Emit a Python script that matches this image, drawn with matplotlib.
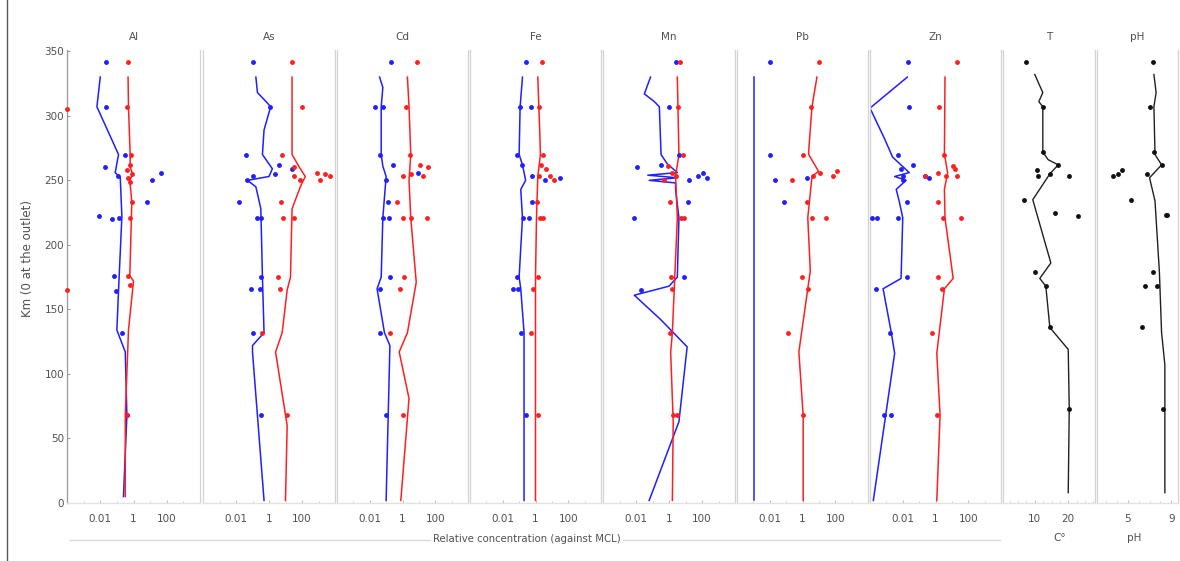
import numpy as np
import matplotlib
matplotlib.use("Agg")
import matplotlib.pyplot as plt
from matplotlib.lines import Line2D
from matplotlib.ticker import FixedLocator, NullFormatter, FixedFormatter

plt.rcParams['font.family'] = ['DejaVu Sans']

W, H = 1180, 561
PANELS = ["Al", "As", "Cd", "Fe", "Mn", "Pb", "Zn", "T", "pH"]

# ---------------- data (km from outlet, relative concentration vs MCL) ----------------
AL_BLUE_KM = [342, 307, 270, 260, 253, 250, 256, 233, 222, 220, 221, 176, 164, 132, 68]
AL_BLUE = [0.022, 0.022, 0.32, 0.02, 0.117, 12.6, 45, 6.3, 7.9e-3, 0.05, 0.126, 0.063, 0.089, 0.2, 0.4]
AL_RED_KM = [342, 307, 270, 258, 262, 255, 252, 249, 233, 221, 176, 169, 68, 305, 165]
AL_RED = [0.5, 0.4, 0.71, 0.4, 0.63, 0.8, 0.5, 0.63, 0.79, 0.63, 0.5, 0.63, 0.4, 1e-4, 1e-4]
AL_BLINE_KM = [5, 68, 117, 134, 165, 222, 252, 256, 270, 307, 330]
AL_BLINE = [0.25, 0.4, 0.32, 0.1, 0.126, 0.2, 0.16, 0.079, 0.126, 6.3e-3, 0.01]
AL_RLINE_KM = [5, 68, 134, 172, 176, 233, 250, 255, 260, 270, 307, 330]
AL_RLINE = [0.32, 0.32, 0.5, 1.0, 0.6, 0.79, 0.6, 0.9, 0.63, 0.63, 0.5, 0.47]

AS_BLUE_KM = [342, 307, 270, 262, 255, 253, 250, 259, 233, 221, 221, 175, 166, 166, 132, 68]
AS_BLUE = [0.1, 1.2, 0.04, 4.0, 2.24, 0.1, 0.044, 25, 0.016, 0.2, 0.32, 0.32, 0.079, 0.28, 0.1, 0.35]
AS_RED_KM = [342, 307, 270, 260, 256, 255, 250, 253, 253, 250, 233, 221, 221, 175, 166, 132, 68]
AS_RED = [25, 100, 6.3, 32, 800, 2500, 1260, 5000, 32, 79, 5.5, 6.9, 32, 3.5, 4.8, 0.4, 12]
AS_BLINE_KM = [2, 117, 122, 132, 175, 228, 245, 250, 253, 259, 270, 289, 307, 310, 318, 330]
AS_BLINE = [0.5, 0.1, 0.1, 0.5, 0.4, 0.32, 0.16, 0.05, 1.0, 1.6, 0.4, 0.5, 1.26, 0.79, 0.2, 0.16]
AS_RLINE_KM = [2, 60, 117, 132, 165, 175, 228, 245, 253, 261, 270, 330]
AS_RLINE = [10, 12.6, 2.5, 6.3, 12.6, 20, 25, 79, 158, 63, 25, 25]

CD_BLUE_KM = [342, 307, 307, 270, 262, 250, 256, 233, 221, 221, 175, 166, 132, 68]
CD_BLUE = [0.2, 0.02, 0.069, 0.044, 0.28, 0.1, 8.7, 0.126, 0.063, 0.16, 0.17, 0.044, 0.04, 0.1]
CD_RED_KM = [342, 307, 270, 262, 260, 255, 253, 253, 233, 221, 221, 221, 175, 166, 132, 68]
CD_RED = [7.9, 1.6, 2.75, 11, 35, 3.2, 17.4, 1.0, 0.44, 1.0, 3.2, 32, 1.2, 0.69, 0.17, 1.1]
CD_BLINE_KM = [2, 122, 132, 166, 175, 221, 253, 261, 270, 307, 322, 330]
CD_BLINE = [0.1, 0.17, 0.079, 0.028, 0.05, 0.063, 0.1, 0.063, 0.05, 0.05, 0.063, 0.04]
CD_RLINE_KM = [2, 81, 117, 132, 171, 221, 250, 270, 307, 330]
CD_RLINE = [0.79, 2.5, 0.63, 2.0, 6.9, 3.2, 2.5, 3.2, 2.5, 2.0]

FE_BLUE_KM = [342, 307, 307, 270, 262, 253, 250, 252, 233, 221, 221, 175, 166, 166, 132, 68]
FE_BLUE = [0.25, 0.115, 0.5, 0.079, 0.16, 0.58, 4.0, 32, 0.58, 0.18, 0.4, 0.072, 0.04, 0.091, 0.138, 0.25]
FE_RED_KM = [342, 307, 270, 262, 259, 253, 253, 250, 233, 221, 221, 175, 166, 132, 68]
FE_RED = [2.5, 1.74, 2.9, 2.2, 4.6, 1.6, 7.9, 12.6, 1.26, 1.8, 2.9, 1.38, 0.72, 0.5, 1.45]
FE_BLINE_KM = [2, 132, 166, 175, 221, 243, 250, 262, 270, 307, 330]
FE_BLINE = [0.2, 0.2, 0.126, 0.1, 0.16, 0.126, 0.25, 0.16, 0.1, 0.115, 0.16]
FE_RLINE_KM = [2, 132, 175, 221, 253, 270, 289, 330]
FE_RLINE = [1.0, 1.0, 1.0, 1.15, 1.38, 2.0, 1.8, 1.38]

MN_BLUE_KM = [342, 307, 270, 262, 260, 250, 253, 256, 252, 233, 221, 175, 165]
MN_BLUE = [2.5, 1.0, 4.0, 0.33, 0.012, 16.6, 60, 115, 190, 14.5, 7.6e-3, 7.6, 0.019]
MN_RED_KM = [342, 307, 270, 261, 256, 253, 250, 233, 221, 221, 175, 166, 132, 68, 68]
MN_RED = [4.8, 3.3, 6.6, 0.83, 1.6, 2.5, 0.52, 1.2, 5.2, 7.6, 1.32, 1.45, 1.2, 1.66, 3.0]
MN_BLINE_KM = [2, 63, 121, 142, 161, 168, 175, 221, 243, 248, 250, 252, 254, 256, 263, 270, 307, 311, 317, 330]
MN_BLINE = [0.063, 4.0, 12.6, 0.32, 7.9e-3, 1.0, 3.2, 4.0, 2.5, 2.5, 0.063, 3.2, 0.052, 3.2, 0.76, 0.33, 0.26, 0.13, 0.032, 0.076]
MN_RLINE_KM = [2, 63, 117, 132, 221, 253, 270, 330]
MN_RLINE = [1.6, 1.8, 1.26, 1.6, 3.2, 2.5, 4.0, 3.2]

PB_BLUE_KM = [342, 270, 250, 252, 233]
PB_BLUE = [0.011, 0.01, 0.022, 1.9, 0.076]
PB_RED_KM = [342, 307, 270, 257, 253, 256, 253, 250, 233, 221, 221, 175, 166, 132, 68]
PB_RED = [9.5, 3.5, 1.0, 126, 69, 12, 4.4, 0.22, 1.9, 3.8, 27.5, 0.87, 2.1, 0.138, 1.1]
PB_BLINE_KM = [2, 330]
PB_BLINE = [1.1e-3, 1.1e-3]
PB_RLINE_KM = [2, 68, 117, 166, 180, 221, 253, 257, 270, 273, 307, 330]
PB_RLINE = [1.1, 1.1, 0.6, 2.1, 3.0, 2.1, 3.8, 9.5, 2.4, 2.4, 3.8, 7.6]

ZN_BLUE_KM = [342, 307, 270, 262, 259, 253, 250, 253, 252, 233, 221, 221, 221, 175, 166, 132, 68, 68]
ZN_BLUE = [0.022, 0.024, 4.8e-3, 0.044, 7.6e-3, 0.01, 0.01, 0.24, 0.38, 0.019, 1.3e-4, 2.6e-4, 5.5e-3, 0.019, 2.2e-4, 1.7e-3, 7.6e-4, 1.9e-3]
ZN_RED_KM = [342, 307, 270, 261, 259, 256, 253, 253, 253, 233, 221, 221, 175, 166, 132, 68]
ZN_RED = [22, 1.74, 3.5, 12, 15, 1.5, 4.2, 21, 0.24, 1.38, 3.0, 35, 1.5, 2.4, 0.6, 1.2]
ZN_BLINE_KM = [2, 116, 132, 166, 174, 221, 233, 243, 250, 253, 256, 268, 282, 306, 330]
ZN_BLINE = [1.6e-4, 3.2e-3, 2e-3, 6.3e-4, 7.9e-3, 0.01, 6.3e-3, 4e-3, 0.016, 3.2e-3, 0.025, 2.4e-3, 7.9e-4, 1e-4, 0.019]
ZN_RLINE_KM = [2, 68, 116, 166, 174, 221, 243, 256, 270, 330]
ZN_RLINE = [1.2, 1.9, 1.2, 3.5, 12, 3.8, 3.5, 5.5, 3.5, 3.8]

T_KM = [342, 307, 272, 262, 258, 255, 253, 253, 235, 225, 222, 179, 168, 136, 73]
T_VAL = [7.3, 12.4, 12.4, 17, 10.6, 14.5, 11, 20.3, 6.7, 16, 23, 10, 13.3, 14.5, 20.3]
T_LINE_KM = [8, 73, 119, 136, 168, 174, 186, 235, 255, 262, 266, 272, 307, 311, 318, 332]
T_LINE = [20, 20.3, 20, 14.5, 13.3, 11.5, 14.8, 9.4, 14.5, 17, 14, 12.4, 12.4, 11.2, 12.4, 10]

PH_KM = [342, 307, 272, 262, 258, 253, 255, 255, 235, 223, 223, 179, 168, 168, 136, 73]
PH_VAL = [7.3, 7.0, 7.4, 8.1, 4.5, 3.7, 4.1, 6.8, 5.3, 8.5, 8.6, 7.3, 6.6, 7.7, 6.3, 8.2]
PH_LINE_KM = [8, 107, 132, 179, 234, 252, 262, 270, 307, 318, 332]
PH_LINE = [8.4, 8.4, 8.1, 7.9, 7.5, 7.0, 8.1, 7.5, 7.4, 7.6, 7.4]

METALS = [
    ("Al", AL_BLUE_KM, AL_BLUE, AL_RED_KM, AL_RED, AL_BLINE_KM, AL_BLINE, AL_RLINE_KM, AL_RLINE),
    ("As", AS_BLUE_KM, AS_BLUE, AS_RED_KM, AS_RED, AS_BLINE_KM, AS_BLINE, AS_RLINE_KM, AS_RLINE),
    ("Cd", CD_BLUE_KM, CD_BLUE, CD_RED_KM, CD_RED, CD_BLINE_KM, CD_BLINE, CD_RLINE_KM, CD_RLINE),
    ("Fe", FE_BLUE_KM, FE_BLUE, FE_RED_KM, FE_RED, FE_BLINE_KM, FE_BLINE, FE_RLINE_KM, FE_RLINE),
    ("Mn", MN_BLUE_KM, MN_BLUE, MN_RED_KM, MN_RED, MN_BLINE_KM, MN_BLINE, MN_RLINE_KM, MN_RLINE),
    ("Pb", PB_BLUE_KM, PB_BLUE, PB_RED_KM, PB_RED, PB_BLINE_KM, PB_BLINE, PB_RLINE_KM, PB_RLINE),
    ("Zn", ZN_BLUE_KM, ZN_BLUE, ZN_RED_KM, ZN_RED, ZN_BLINE_KM, ZN_BLINE, ZN_RLINE_KM, ZN_RLINE),
]

# ---------------- layout (pixels) ----------------
PANEL_X = [(67, 200), (203, 335), (337, 468), (470, 601), (603, 735),
           (737, 868), (870, 1001), (1003, 1095), (1097, 1178)]
Y_TOP, Y_BOT = 50, 503
BLUE = "#1f1fff"
RED = "#ff1f1f"
TXT = "#505050"
SPINE = "#d2d2d2"

fig = plt.figure(figsize=(W / 100, H / 100), dpi=100)
fig.patch.set_facecolor("white")


def make_ax(i):
    x0, x1 = PANEL_X[i]
    ax = fig.add_axes([x0 / W, 1 - Y_BOT / H, (x1 - x0) / W, (Y_BOT - Y_TOP) / H])
    ax.set_ylim(0, 351)
    for s in ("left", "right"):
        ax.spines[s].set_color(SPINE)
        ax.spines[s].set_linewidth(0.9)
    ax.spines["top"].set_visible(False)
    ax.spines["bottom"].set_color("#e2e2e2")
    ax.spines["bottom"].set_linewidth(1.0)
    ax.tick_params(axis="x", which="both", direction="in", length=2.5, color="#c0c0c0",
                   labelsize=7.5, labelcolor=TXT, pad=8)
    ax.tick_params(axis="x", which="minor", length=1.5)
    ax.tick_params(axis="y", which="both", left=False, right=False, labelleft=False)
    fig.text((x0 + x1) / 2 / W, 1 - 37 / H, PANELS[i], ha="center", va="center",
             fontsize=7.5, color=TXT)
    return ax


for i, (name, bk, bv, rk, rv, blk, blv, rlk, rlv) in enumerate(METALS):
    ax = make_ax(i)
    ax.set_xscale("log")
    ax.set_xlim(1e-4, 1e4)
    ax.plot(blv, blk, color=BLUE, lw=1.1, zorder=2)
    ax.plot(rlv, rlk, color=RED, lw=1.1, zorder=2)
    ax.plot(bv, bk, "o", color=BLUE, ms=3.5, mew=0, zorder=3, clip_on=False)
    ax.plot(rv, rk, "o", color=RED, ms=3.5, mew=0, zorder=3, clip_on=False)
    ax.xaxis.set_major_locator(FixedLocator([1e-2, 1, 1e2]))
    ax.xaxis.set_major_formatter(FixedFormatter(["0.01", "1", "100"]))
    ax.xaxis.set_minor_locator(FixedLocator([1e-4, 1e-3, 1e-1, 10, 1e3, 1e4]))
    ax.xaxis.set_minor_formatter(NullFormatter())
    if i == 0:
        ax.spines["left"].set_color("#9a9a9a")
        ax.set_yticks(np.arange(0, 351, 50))
        ax.tick_params(axis="y", left=True, labelleft=True, direction="in", length=2.5,
                       color="#9a9a9a", labelsize=7.5, labelcolor=TXT, pad=2)

# Temperature
axT = make_ax(7)
axT.set_xlim(0.5, 28)
axT.plot(T_LINE, T_LINE_KM, color="#202020", lw=1.0, zorder=2)
axT.plot(T_VAL, T_KM, "o", color="#111111", ms=3.5, mew=0, zorder=3)
axT.xaxis.set_major_locator(FixedLocator([10, 20]))
axT.xaxis.set_minor_locator(FixedLocator([2.5, 5, 7.5, 12.5, 15, 17.5, 22.5, 25, 27.5]))
axT.xaxis.set_minor_formatter(NullFormatter())

# pH
axP = make_ax(8)
axP.set_xlim(2.2, 9.6)
axP.plot(PH_LINE, PH_LINE_KM, color="#202020", lw=1.0, zorder=2)
axP.plot(PH_VAL, PH_KM, "o", color="#111111", ms=3.5, mew=0, zorder=3)
axP.xaxis.set_major_locator(FixedLocator([5, 9]))
axP.xaxis.set_minor_locator(FixedLocator([3, 4, 6, 7, 8]))
axP.xaxis.set_minor_formatter(NullFormatter())

# labels
fig.text(28 / W, 1 - 258 / H, "Km (0 at the outlet)", rotation=90, ha="center", va="center",
         fontsize=8.5, color=TXT)
fig.add_artist(Line2D([70 / W, 1000 / W], [1 - 540 / H, 1 - 540 / H], color="#d8d8d8", lw=1.0))
fig.text(527 / W, 1 - 539 / H, "Relative concentration (against MCL)", ha="center", va="center",
         fontsize=7.3, color=TXT, bbox=dict(facecolor="white", edgecolor="none", pad=1.5))
fig.text(1060 / W, 1 - 538 / H, "C°", ha="center", va="center", fontsize=7.5, color=TXT)
fig.text(1134 / W, 1 - 538 / H, "pH", ha="center", va="center", fontsize=7.5, color=TXT)
fig.add_artist(Line2D([7 / W, 7 / W], [0, 1], color="#555555", lw=1.0))

fig.savefig("out.png", dpi=100, facecolor="white")
